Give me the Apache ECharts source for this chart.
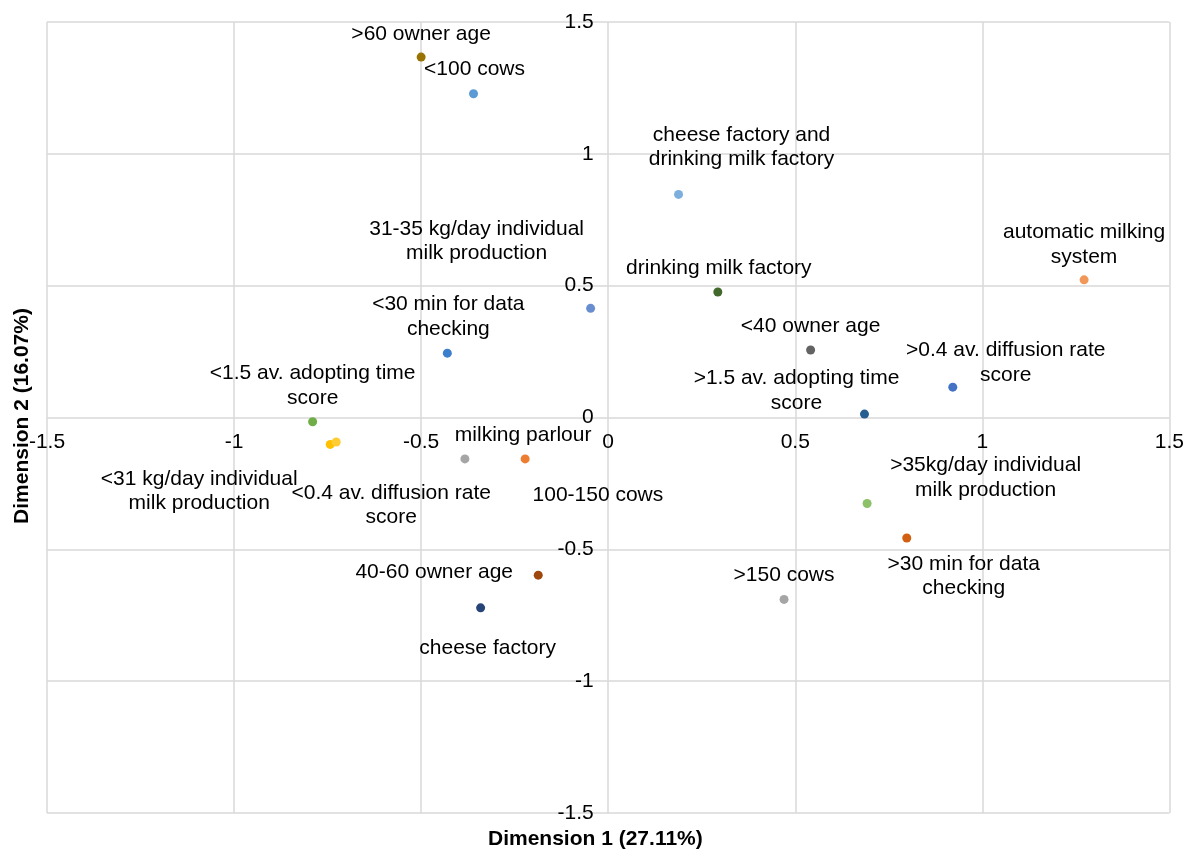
<!DOCTYPE html>
<html>
<head>
<meta charset="utf-8">
<title>Dimension 1 vs Dimension 2</title>
<script src="https://cdn.jsdelivr.net/npm/echarts@6/dist/echarts.min.js"></script>
<style>
  html, body { margin: 0; padding: 0; background: #ffffff; }
  #chart { width: 1187px; height: 851px; }
</style>
</head>
<body>
<div id="chart"></div>
<script>
// Category labels (line breaks as they are drawn)
const categories = [
  '>60 owner age',
  '<100 cows',
  'cheese factory and\ndrinking milk factory',
  '31-35 kg/day individual\nmilk production',
  'drinking milk factory',
  'automatic milking\nsystem',
  '<30 min for data\nchecking',
  '<40 owner age',
  '>0.4 av. diffusion rate\nscore',
  '>1.5 av. adopting time\nscore',
  '<1.5 av. adopting time\nscore',
  '<31 kg/day individual\nmilk production',
  '<0.4 av. diffusion rate\nscore',
  '100-150 cows',
  'milking parlour',
  '40-60 owner age',
  'cheese factory',
  '>35kg/day individual\nmilk production',
  '>30 min for data\nchecking',
  '>150 cows'
];

// Dimension 1 coordinates
const dim1 = [
  -0.500, -0.360, 0.188, -0.047, 0.293, 1.272, -0.430, 0.541, 0.921, 0.685,
  -0.790, -0.743, -0.727, -0.383, -0.222, -0.187, -0.341, 0.692, 0.798, 0.470
];

// Dimension 2 coordinates
const dim2 = [
  1.367, 1.228, 0.846, 0.414, 0.476, 0.522, 0.244, 0.256, 0.115, 0.013,
  -0.016, -0.102, -0.093, -0.157, -0.157, -0.598, -0.722, -0.326, -0.457, -0.690
];

const axisTicks = [-1.5, -1, -0.5, 0, 0.5, 1, 1.5];
const xTitle = 'Dimension 1 (27.11%)';
const yTitle = 'Dimension 2 (16.07%)';

// Marker colours, one per category
const colors = [
  '#997300', '#5B9BD5', '#7CAFDD', '#698ED0', '#43682B', '#F1975A', '#3C7FCC',
  '#636363', '#4472C4', '#255E91', '#70AD47', '#FFC000', '#FFCD33', '#A5A5A5',
  '#ED7D31', '#9E480E', '#264478', '#8CC168', '#D26012', '#A5A5A5'
];

// Label placement relative to each marker (px)
const labelOffsets = [
  [0, -23], [1, -25], [63, -47], [-114, -67], [1, -24], [0, -35], [1, -36.5],
  [0, -24], [53, -24.5], [-68, -23.5], [0, -36], [-131, 47], [55, 63],
  [133, 36], [-2, -24], [-104, -3], [7, 40.6], [118.5, -26], [57, 38], [0, -24]
];

const FONT = '"Liberation Sans", Arial, sans-serif';
const GRID_COLOR = '#D9D9D9';
const TEXT_COLOR = '#000000';
const GRID = { left: 47, top: 22, width: 1125, height: 791 };

const points = categories.map((name, i) => ({
  name: name,
  value: [dim1[i], dim2[i]],
  itemStyle: { color: colors[i], opacity: 1 },
  label: { offset: labelOffsets[i] }
}));

const chart = echarts.init(document.getElementById('chart'), null, { renderer: 'canvas' });

// The zero lines come from the split lines; the axes only carry the tick labels
const axisBase = {
  type: 'value',
  min: axisTicks[0],
  max: axisTicks[axisTicks.length - 1],
  interval: axisTicks[1] - axisTicks[0],
  axisLine: { show: false, onZero: false },
  axisTick: { show: false },
  splitLine: { show: true, lineStyle: { color: GRID_COLOR, width: 1.5 } }
};

chart.setOption({
  animation: false,
  backgroundColor: '#ffffff',
  grid: Object.assign({ containLabel: false }, GRID),
  xAxis: Object.assign({}, axisBase, {
    position: 'bottom',
    axisLabel: {
      show: true, showMinLabel: true, showMaxLabel: true,
      margin: 14, fontSize: 21, fontFamily: FONT, color: TEXT_COLOR
    }
  }),
  yAxis: Object.assign({}, axisBase, {
    position: 'left',
    axisLabel: {
      show: true, showMinLabel: true, showMaxLabel: true,
      margin: 21, fontSize: 21, fontFamily: FONT, color: TEXT_COLOR
    }
  }),
  graphic: [
    {
      type: 'text',
      left: 598 - 110, top: 829,
      style: {
        text: xTitle, fontSize: 21, fontWeight: 'bold', fontFamily: FONT,
        fill: TEXT_COLOR
      }
    },
    {
      type: 'text',
      x: 22, y: 416,
      rotation: Math.PI / 2,
      style: {
        text: yTitle, fontSize: 21, fontWeight: 'bold', fontFamily: FONT,
        fill: TEXT_COLOR, align: 'center', verticalAlign: 'middle'
      }
    }
  ],
  series: [{
    type: 'scatter',
    symbol: 'circle',
    symbolSize: 9,
    itemStyle: { opacity: 1 },
    data: points,
    label: {
      show: true,
      position: 'inside',
      formatter: '{b}',
      align: 'center',
      verticalAlign: 'middle',
      fontSize: 21,
      lineHeight: 24.5,
      fontFamily: FONT,
      color: TEXT_COLOR,
      opacity: 1,
      textBorderWidth: 0
    },
    emphasis: { disabled: true }
  }]
});

// Move both axes' labels so they sit on the lines through the origin
const origin = chart.convertToPixel({ gridIndex: 0 }, [0, 0]);
chart.setOption({
  xAxis: { offset: -((GRID.top + GRID.height) - origin[1]) },
  yAxis: { offset: -(origin[0] - GRID.left) }
});
</script>
</body>
</html>
